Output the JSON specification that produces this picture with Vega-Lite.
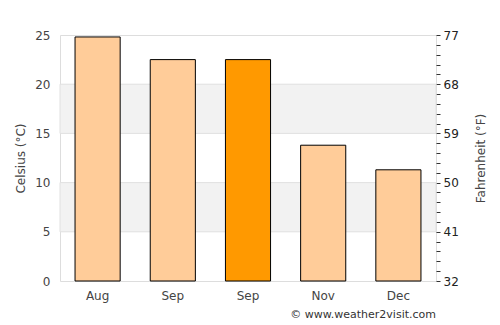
{
  "$schema": "https://vega.github.io/schema/vega-lite/v6.json",
  "width": 500,
  "height": 325,
  "autosize": {"type": "fit", "contains": "padding"},
  "padding": {"left": 14, "right": 13, "top": 29, "bottom": 5},
  "config": {
    "font": "DejaVu Sans",
    "view": {"stroke": "#dddddd"},
    "axis": {"labelFontSize": 12, "titleFontSize": 12, "titleFontWeight": "normal", "labelColor": "#444444", "titleColor": "#444444"}
  },
  "title": {"text": "© www.weather2visit.com", "orient": "bottom", "anchor": "end", "frame": "group", "fontSize": 11, "fontWeight": "normal", "color": "#333333", "offset": 8},
  "datasets": {
    "months": [
      {"month": "Aug", "celsius": 24.8, "fahrenheit": 76.6, "highlight": "no"},
      {"month": "Sep", "celsius": 22.5, "fahrenheit": 72.5, "highlight": "no"},
      {"month": "Sep ", "celsius": 22.5, "fahrenheit": 72.5, "highlight": "yes"},
      {"month": "Nov", "celsius": 13.8, "fahrenheit": 56.8, "highlight": "no"},
      {"month": "Dec", "celsius": 11.3, "fahrenheit": 52.3, "highlight": "no"}
    ],
    "bands": [
      {"lo": 5, "hi": 10},
      {"lo": 15, "hi": 20}
    ]
  },
  "layer": [
    {
      "layer": [
        {
          "data": {"name": "bands"},
          "mark": {"type": "rect", "fill": "#f2f2f2", "stroke": "#e0e0e0", "strokeWidth": 1},
          "encoding": {
            "y": {"field": "lo", "type": "quantitative", "scale": {"domain": [0, 25], "nice": false}},
            "y2": {"field": "hi"}
          }
        },
        {
          "data": {"name": "months"},
          "mark": {"type": "bar", "stroke": "#000000", "strokeWidth": 1},
          "encoding": {
            "x": {"field": "month", "type": "nominal", "sort": null,
              "scale": {"paddingInner": 0.4, "paddingOuter": 0.2},
              "axis": {"title": null, "labelAngle": 0, "ticks": false, "domain": false, "labelPadding": 9, "labelExpr": "trim(datum.label)"}},
            "y": {"field": "celsius", "type": "quantitative",
              "scale": {"domain": [0, 25], "nice": false},
              "axis": {"title": "Celsius (°C)", "values": [0, 5, 10, 15, 20, 25], "grid": false, "ticks": false, "domain": false, "labelPadding": 10, "titlePadding": 7}},
            "color": {"field": "highlight", "type": "nominal", "scale": {"domain": ["no", "yes"], "range": ["#ffcc99", "#ff9900"]}, "legend": null}
          }
        }
      ]
    },
    {
      "data": {"name": "months"},
      "mark": {"type": "point", "opacity": 0},
      "encoding": {
        "x": {"field": "month", "type": "nominal", "sort": null},
        "y": {"field": "fahrenheit", "type": "quantitative",
          "scale": {"domain": [32, 77], "nice": false, "zero": false},
          "axis": {"orient": "right", "title": "Fahrenheit (°F)", "titleAngle": -90, "titleBaseline": "bottom",
            "values": [32, 33.8, 35.6, 37.4, 39.2, 41, 42.8, 44.6, 46.4, 48.2, 50, 51.8, 53.6, 55.4, 57.2, 59, 60.8, 62.6, 64.4, 66.2, 68, 69.8, 71.6, 73.4, 75.2, 77],
            "labelExpr": "abs((datum.value - 32) / 9 - round((datum.value - 32) / 9)) < 0.01 ? format(datum.value, 'd') : ''",
            "labelOverlap": false, "grid": false, "domain": false, "tickSize": 4, "tickColor": "#333333", "labelColor": "#222222", "labelPadding": 3, "titlePadding": 29}
        }
      }
    }
  ],
  "resolve": {"scale": {"y": "independent"}}
}
